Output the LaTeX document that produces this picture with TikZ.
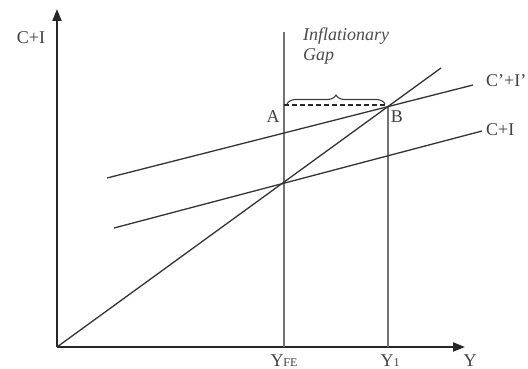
\documentclass[tikz,border=0pt]{standalone}
\usepackage{fontspec}
\setmainfont{Liberation Serif}
\usetikzlibrary{arrows.meta,decorations.pathreplacing}
\begin{document}
\begin{tikzpicture}[x=1pt,y=-1pt,
  axis/.style={line width=2pt,draw=black!85,-{Triangle[length=12pt,width=9pt]}},
  vline/.style={line width=1.5pt,draw=black!55},
  curve/.style={line width=1.3pt,draw=black!80},
  lbl/.style={text=black!75,font=\fontsize{18}{18}\selectfont,inner sep=0pt},
  ilbl/.style={text=black!70,font=\fontsize{18}{20}\selectfont\itshape,inner sep=0pt,align=left}]
\useasboundingbox (0,0) rectangle (528,369);
\coordinate (O) at (57,347);
\coordinate (ytop) at (57,9);
\coordinate (xend) at (465,347);
\coordinate (fe) at (284,347);
\coordinate (fetop) at (284,32);
\coordinate (y1) at (388,347);
\coordinate (B) at (388,107);
\coordinate (A) at (284,105);
\coordinate (Bd) at (387,105);
\coordinate (d45) at (441,68);
\coordinate (c1s) at (107,178);
\coordinate (c1e) at (473,85);
\coordinate (c0s) at (114,228);
\coordinate (c0e) at (482,131);
\coordinate (brl) at (287,104);
\coordinate (brr) at (385,104);
% axes
\draw[axis] (O) -- (ytop);
\draw[axis] (O) -- (xend);
% vertical lines
\draw[vline] (fe) -- (fetop);
\draw[vline] (y1) -- (B);
% curves
\draw[curve] (O) -- (d45);
\draw[curve] (c1s) -- (c1e);
\draw[curve] (c0s) -- (c0e);
\draw[line width=1.4pt,draw=black!85,dash pattern=on 5pt off 3pt] (A) -- (Bd);
\draw[line width=1.1pt,draw=black!75,decorate,decoration={brace,amplitude=9pt}] (brl) -- (brr);
% labels
\node[lbl] (lci) at (31,38) {C+I};
\node[lbl,anchor=west] (lcp) at (486,81) {C'+I'};
\node[lbl,anchor=west] (lc) at (486,130) {C+I};
\node[lbl] (la) at (273,117) {A};
\node[lbl] (lb) at (397,117) {B};
\node[lbl,anchor=base] (ly) at (470,366) {Y};
\node[lbl,anchor=base] (lyfe) at (284,366) {Y{\fontsize{12}{12}\selectfont FE}};
\node[lbl,anchor=base] (ly1) at (390,366) {Y{\fontsize{12}{12}\selectfont 1}};
\node[ilbl,anchor=west] (gap) at (303,46) {Inflationary\\Gap};
\end{tikzpicture}
\end{document}
